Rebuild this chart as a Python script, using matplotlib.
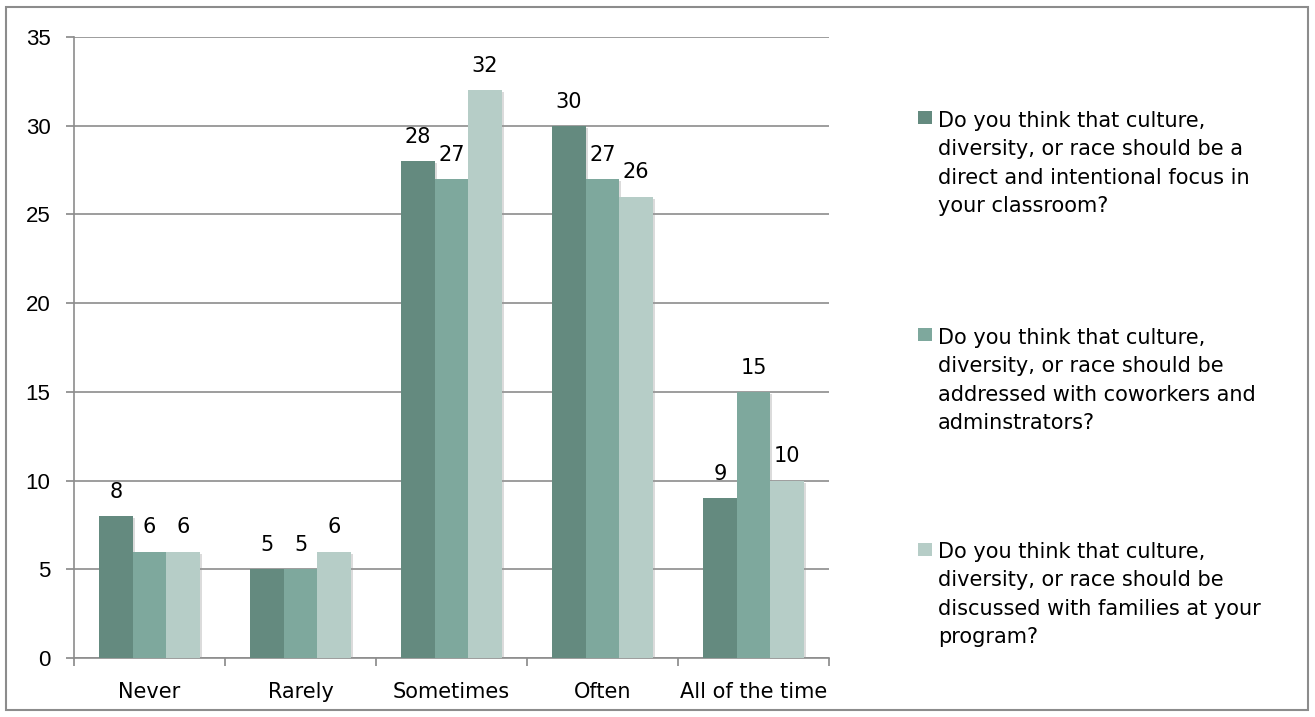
import numpy as np
import matplotlib.pyplot as plt
from matplotlib.patches import Rectangle
import matplotlib.patheffects as pe

categories = ["Never", "Rarely", "Sometimes", "Often", "All of the time"]
focus_classroom = [8, 5, 28, 30, 9]
coworkers_admin = [6, 5, 27, 27, 15]
families_program = [6, 6, 32, 26, 10]
series_labels = [
    "Do you think that culture,\ndiversity, or race should be a\ndirect and intentional focus in\nyour classroom?",
    "Do you think that culture,\ndiversity, or race should be\naddressed with coworkers and\nadminstrators?",
    "Do you think that culture,\ndiversity, or race should be\ndiscussed with families at your\nprogram?",
]
colors = ["#648a7f", "#7ea89d", "#b6cdc7"]

plt.rcParams['font.family'] = ['DejaVu Sans']
FS = 15

W, H = 1315, 717
fig = plt.figure(figsize=(W / 100, H / 100), dpi=100)
ax = fig.add_axes([74 / W, 1 - 658 / H, (829 - 74) / W, (658 - 37) / H])

x = np.arange(len(categories))
w = 0.222
shadow = [pe.SimplePatchShadow(offset=(1.5, -1.5), shadow_rgbFace='#999999', alpha=0.35), pe.Normal()]
for i, vals in enumerate([focus_classroom, coworkers_admin, families_program]):
    bars = ax.bar(x + (i - 1) * w, vals, width=w, color=colors[i], zorder=3,
                  path_effects=shadow)
    for b, v in zip(bars, vals):
        ax.text(b.get_x() + b.get_width() / 2, v + 0.8, str(v), ha='center', va='bottom',
                fontsize=FS, color='black', zorder=4)

ax.set_xlim(-0.5, len(categories) - 0.5)
ax.set_ylim(0, 35)
ax.set_yticks(range(0, 36, 5))
ax.set_xticks(x)
ax.set_xticklabels(categories, fontsize=FS)
ax.set_xticks(np.arange(-0.5, len(categories), 1), minor=True)
ax.tick_params(axis='x', which='major', length=0, pad=17)
ax.tick_params(axis='x', which='minor', length=6, color='#888888', width=1.2)
ax.tick_params(axis='y', length=6, color='#888888', width=1.2, pad=11)
for lab in ax.get_yticklabels():
    lab.set_family('Liberation Sans')
    lab.set_fontsize(16)
ax.yaxis.grid(True, color='#8c8c8c', linewidth=1.2, zorder=0)
for s in ['top', 'right']:
    ax.spines[s].set_visible(False)
for s in ['left', 'bottom']:
    ax.spines[s].set_color('#8c8c8c')
    ax.spines[s].set_linewidth(1.2)

# legend: colour square beside the first line of each question
first_lines = [126, 343, 558]
last_lines = [212, 429, 643]
for c, lab, y0, y1 in zip(colors, series_labels, first_lines, last_lines):
    fig.patches.append(Rectangle((918 / W, 1 - (y0 - 2) / H), 14 / W, 13 / H,
                                 transform=fig.transFigure, facecolor=c, edgecolor='none'))
    fig.text(938 / W, 1 - y1 / H, lab, ha='left', va='baseline', fontsize=FS,
             linespacing=1.52)

fig.patches.append(Rectangle((6 / W, 1 - 710 / H), 1302 / W, 703 / H,
                             transform=fig.transFigure, fill=False,
                             edgecolor='#8c8c8c', linewidth=1.5))

plt.savefig('out.png', dpi=100)
